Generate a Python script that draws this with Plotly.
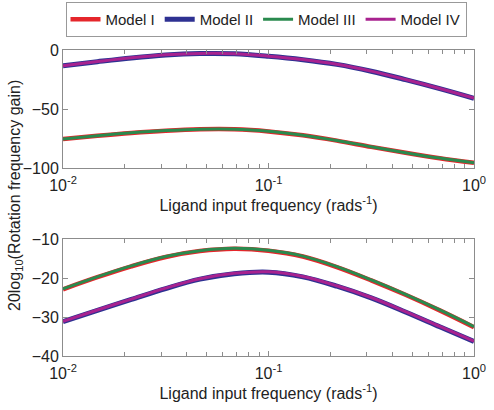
import plotly.graph_objects as go

# ---- data ----
freq = [0.01, 0.0147, 0.0215, 0.0316, 0.0464, 0.0681, 0.1, 0.147, 0.215, 0.316, 0.464, 0.681, 1.0]

# top panel (dB)
top_model_I   = [-75.5, -72.7, -70.3, -68.4, -67.2, -67.2, -69.0, -72.3, -76.8, -82.1, -87.1, -91.7, -95.6]
top_model_II  = [-13.4, -9.9, -6.7, -4.2, -3.0, -3.2, -5.3, -8.2, -12.2, -18.0, -25.1, -32.7, -40.9]
top_model_III = [-75.4, -72.6, -70.2, -68.3, -67.1, -67.1, -68.9, -72.2, -76.7, -82.0, -87.0, -91.6, -95.5]
top_model_IV  = [-13.3, -9.8, -6.6, -4.1, -2.9, -3.1, -5.2, -8.1, -12.1, -17.9, -25.0, -32.6, -40.8]

# bottom panel (dB)
bot_model_I   = [-22.9, -19.8, -17.0, -14.6, -13.1, -12.5, -13.0, -14.5, -17.2, -20.6, -24.3, -28.3, -32.6]
bot_model_II  = [-31.2, -28.3, -25.5, -22.7, -20.3, -18.9, -18.5, -19.7, -22.1, -25.1, -28.7, -32.5, -36.3]
bot_model_III = [-22.8, -19.7, -16.9, -14.5, -13.0, -12.4, -12.9, -14.4, -17.1, -20.5, -24.2, -28.2, -32.5]
bot_model_IV  = [-31.1, -28.2, -25.4, -22.6, -20.2, -18.8, -18.4, -19.6, -22.0, -25.0, -28.6, -32.4, -36.2]

names  = ["Model I", "Model II", "Model III", "Model IV"]
colors = ["#e5262b", "#2e3192", "#2a8a4e", "#a8228f"]
widths = [4.5, 5, 3, 3]

x_tickvals = [0.01, 0.1, 1]
x_ticktext = ["10<sup>-2</sup>", "10<sup>-1</sup>", "10<sup>0</sup>"]
minor_vals = [k * 0.01 for k in range(2, 10)] + [k * 0.1 for k in range(2, 10)]

FONT = "Arial, Liberation Sans, Helvetica, sans-serif"
W, H = 494, 410

fig = go.Figure()
top_sets = [top_model_I, top_model_II, top_model_III, top_model_IV]
bot_sets = [bot_model_I, bot_model_II, bot_model_III, bot_model_IV]
for i in range(4):
    fig.add_trace(go.Scatter(x=freq, y=top_sets[i], mode="lines", name=names[i],
                             line=dict(color=colors[i], width=widths[i], shape="spline", smoothing=1.0),
                             xaxis="x", yaxis="y", legendgroup=names[i]))
for i in range(4):
    fig.add_trace(go.Scatter(x=freq, y=bot_sets[i], mode="lines", name=names[i],
                             line=dict(color=colors[i], width=widths[i], shape="spline", smoothing=1.0),
                             xaxis="x2", yaxis="y2", legendgroup=names[i], showlegend=False))

axcol = "#8c8c8c"
xdom = [63 / W, 474 / W]
common_x = dict(type="log", range=[-2, 0], tickvals=x_tickvals, ticktext=x_ticktext,
                ticks="inside", ticklen=5, tickcolor=axcol, showline=True, linecolor=axcol,
                linewidth=1, mirror="ticks", showgrid=False, zeroline=False, domain=xdom,
                automargin=False, ticklabelstandoff=3,
                tickfont=dict(size=16, color="#222"),
                minor=dict(tickvals=minor_vals, ticks="inside", ticklen=4, tickcolor=axcol,
                           showgrid=False),
                title=dict(text="Ligand input frequency (rads<sup>-1</sup>)",
                           font=dict(size=16, color="#222"), standoff=4))
common_y = dict(ticks="inside", ticklen=5, tickcolor=axcol, showline=True, linecolor=axcol,
                linewidth=1, mirror="ticks", showgrid=False, zeroline=False, automargin=False,
                tickfont=dict(size=16, color="#222"))

fig.update_layout(
    width=W, height=H,
    margin=dict(l=0, r=0, t=0, b=0, autoexpand=False),
    paper_bgcolor="white", plot_bgcolor="white",
    font=dict(family=FONT, size=16, color="#222"),
    xaxis=dict(**common_x, anchor="y"),
    yaxis=dict(**common_y, domain=[1 - 168 / H, 1 - 50 / H], range=[-100, 0],
               tickvals=[-100, -50, 0], anchor="x"),
    xaxis2=dict(**common_x, anchor="y2"),
    yaxis2=dict(**common_y, domain=[1 - 356 / H, 1 - 239 / H], range=[-40, -10],
                tickvals=[-40, -30, -20, -10], anchor="x2"),
    legend=dict(orientation="h", x=266 / W, xanchor="center", y=1 - 2 / H, yanchor="top",
                bordercolor="#999", borderwidth=1, bgcolor="white",
                font=dict(size=15, color="#222"), itemwidth=30,
                tracegroupgap=0),
    showlegend=True,
    annotations=[dict(text="20log<sub>10</sub>(Rotation frequency gain)", textangle=-90,
                      x=15 / W, y=1 - 196 / H, xref="paper", yref="paper",
                      xanchor="center", yanchor="middle", showarrow=False,
                      font=dict(size=16, color="#222"))],
)

fig.write_html("out.html", config={"displayModeBar": False},
               post_script="document.body.style.margin='0';document.body.style.overflow='hidden';")
